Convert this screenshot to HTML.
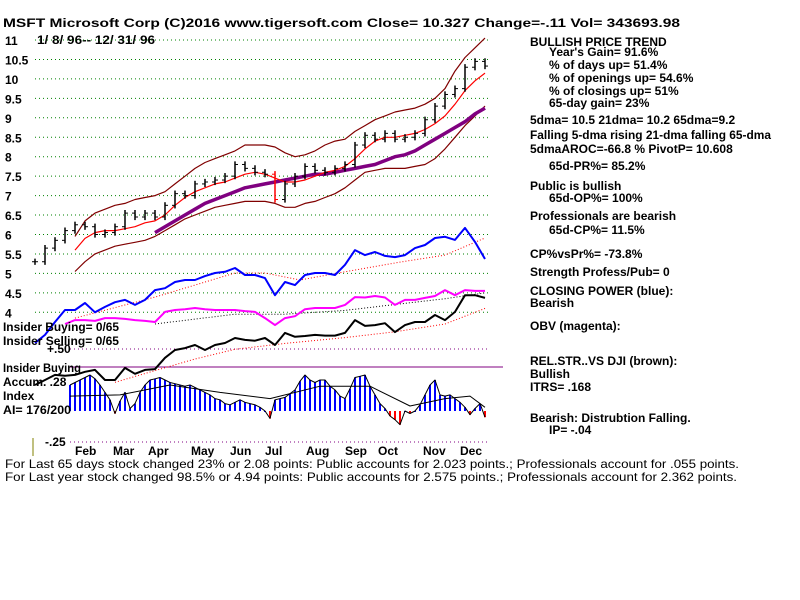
<!DOCTYPE html>
<html><head><meta charset="utf-8"><title>MSFT chart</title>
<style>
html,body{margin:0;padding:0;background:#fff;}
svg{display:block;}
text{font-family:"Liberation Sans",sans-serif;}
.b{font-weight:bold;font-size:12px;}
.n{font-size:12px;}
</style></head>
<body>
<svg id="chart" width="800" height="600" viewBox="0 0 800 600" xmlns="http://www.w3.org/2000/svg">
<rect width="800" height="600" fill="#fff"/>
<text class="b" x="3" y="27" font-size="13" textLength="677" lengthAdjust="spacingAndGlyphs">MSFT   Microsoft Corp  (C)2016 www.tigersoft.com    Close=  10.327  Change=-.11 Vol= 343693.98</text>
<text class="b" x="37" y="44" textLength="118" lengthAdjust="spacingAndGlyphs">1/ 8/ 96-- 12/ 31/ 96</text>
<g id="grid"></g>
<g id="ylabels"></g>
<g id="marks"></g>
<g>
<text class="b" x="3" y="331" textLength="116" lengthAdjust="spacingAndGlyphs">Insider Buying= 0/65</text>
<text class="b" x="3" y="345" textLength="116" lengthAdjust="spacingAndGlyphs">Insider Selling= 0/65</text>
<text class="b" x="47" y="353">+.50</text>
<text class="b" x="3" y="372" textLength="78" lengthAdjust="spacingAndGlyphs">Insider Buying</text>
<text class="b" x="3" y="386">Accum.  .28</text>
<text class="b" x="3" y="400">Index</text>
<text class="b" x="3" y="414" textLength="68" lengthAdjust="spacingAndGlyphs">AI= 176/200</text>
<text class="b" x="45" y="446">-.25</text>
<line x1="33" y1="438" x2="33" y2="456" stroke="#808000" stroke-width="1"/>
</g>
<g id="months"></g>
<g>
<text class="n" x="5" y="468" textLength="734" lengthAdjust="spacingAndGlyphs">For Last 65 days stock changed  23% or  2.08 points:  Public accounts for  2.023 points.;  Professionals account for  .055 points.</text>
<text class="n" x="5" y="481" textLength="732" lengthAdjust="spacingAndGlyphs">For Last year stock changed  98.5% or  4.94 points:  Public accounts for  2.575 points.;  Professionals account for  2.362 points.</text>
</g>
<g id="info"></g>
</svg>
<script>
// ---- data ----
const priceTicks = [11,10.5,10,9.5,9,8.5,8,7.5,7,6.5,6,5.5,5,4.5,4];
const priceTickLabels = ["11","10.5","10","9.5","9","8.5","8","7.5","7","6.5","6","5.5","5","4.5","4"];
const months = ["Feb","Mar","Apr","May","Jun","Jul","Aug","Sep","Oct","Nov","Dec"];
const monthIdx = [5.2,9,12.5,16.8,20.7,24.2,28.3,32.2,35.5,40,43.7];
const closes = [5.3,5.65,5.85,6.1,6.25,6.2,6.0,6.05,6.2,6.55,6.45,6.55,6.45,6.75,7.05,7.0,7.3,7.35,7.4,7.5,7.8,7.7,7.6,7.55,6.9,7.3,7.5,7.75,7.65,7.6,7.7,7.8,8.3,8.55,8.45,8.6,8.45,8.5,8.6,8.95,9.3,9.6,9.75,10.3,10.45,10.33];
const upperBand = [null,null,null,null,5.95,6.35,6.55,6.65,6.75,6.8,6.9,6.95,7.0,7.1,7.3,7.5,7.7,7.85,7.95,8.05,8.15,8.3,8.3,8.3,8.25,8.1,8.0,8.05,8.15,8.3,8.4,8.45,8.65,8.8,8.95,9.05,9.15,9.2,9.25,9.35,9.5,9.75,10.2,10.55,10.8,11.05];
const lowerBand = [null,null,null,null,5.05,5.3,5.5,5.6,5.7,5.75,5.8,5.85,5.95,6.1,6.25,6.4,6.5,6.6,6.7,6.75,6.8,6.85,6.85,6.85,6.8,6.7,6.7,6.8,6.85,6.95,7.05,7.2,7.4,7.6,7.65,7.7,7.7,7.7,7.75,7.8,7.95,8.2,8.5,8.8,9.05,9.3];
const ma21 = [null,null,null,null,5.6,5.9,6.05,6.1,6.1,6.15,6.2,6.3,6.35,6.5,6.75,6.95,7.1,7.2,7.3,7.35,7.45,7.55,7.6,7.55,7.45,7.35,7.35,7.4,7.5,7.6,7.65,7.75,7.95,8.2,8.4,8.5,8.5,8.55,8.6,8.7,8.85,9.05,9.35,9.7,9.95,10.15];
const ma65 = [null,null,null,null,null,null,null,null,null,null,null,null,6.05,6.2,6.35,6.5,6.65,6.8,6.9,7.0,7.1,7.2,7.25,7.3,7.35,7.4,7.45,7.5,7.55,7.55,7.6,7.65,7.7,7.75,7.8,7.9,8.0,8.05,8.15,8.3,8.45,8.6,8.75,8.9,9.1,9.25];
const closingPower = [3.21,3.42,3.75,4.06,4.06,4.24,4.0,4.14,4.26,4.32,4.19,4.32,4.57,4.62,4.78,4.83,4.83,4.93,5.01,5.04,5.14,4.96,4.96,4.88,4.44,4.78,4.7,4.96,5.01,5.01,4.96,5.22,5.6,5.47,5.55,5.45,5.42,5.47,5.65,5.73,5.91,5.94,5.86,6.17,5.81,5.37];
const cpMaIdx = [4,12,20,23,26.5,31,36.5,41,45];
const cpMa = [3.85,4.39,5.01,5.01,4.83,5.04,5.29,5.47,5.91];
const obv = [null,null,null,3.7,3.8,3.8,3.78,3.85,3.85,3.83,3.8,3.78,3.75,4.01,4.06,4.08,4.11,4.08,4.06,4.06,4.06,4.03,4.01,3.85,3.67,3.85,3.9,4.08,4.11,4.11,4.11,4.19,4.39,4.38,4.42,4.38,4.19,4.32,4.32,4.37,4.42,4.57,4.44,4.57,4.55,4.55];
const obvMaIdx = [12,20,25,31,36,41,45];
const obvMa = [3.7,3.95,3.95,4.05,4.2,4.35,4.5];
const relStr = [2.13,2.26,2.39,2.37,2.39,2.47,2.52,2.26,2.26,2.57,2.42,2.52,2.54,2.83,3.03,3.08,3.16,3.03,3.16,3.21,3.34,3.29,3.27,3.34,3.16,3.47,3.37,3.39,3.42,3.4,3.4,3.47,3.8,3.65,3.67,3.72,3.49,3.67,3.75,3.75,3.93,3.8,4.01,4.44,4.44,4.37];
const rsMaIdx = [8,12,16,20,25,31,36,41,45];
const rsMa = [2.2,2.5,2.8,3.05,3.2,3.35,3.5,3.7,4.1];
const aiVals = [.21,.23,.25,.27,.29,.26,.21,.15,.09,-.02,.08,.15,.02,.06,.15,.21,.25,.26,.27,.25,.23,.22,.21,.20,.21,.19,.17,.15,.13,.10,.09,.06,.05,.07,.09,.07,.06,.05,.03,.0,-.06,.09,.10,.11,.14,.17,.24,.29,.25,.23,.25,.25,.20,.17,.12,.10,.18,.27,.28,.29,.20,.13,.06,.02,-.04,-.07,-.11,.0,-.02,.0,.05,.13,.21,.25,.13,.12,.13,.10,.07,.03,-.03,.02,.06,-.05];
const aiMaIdx = [0,10,20,30,40,50,60,68,75,80,83];
const aiMa = [.12,.13,.21,.15,.10,.20,.20,.04,.10,.12,.03];

// ---- scales ----
const NS="http://www.w3.org/2000/svg";
const xOf = i => 35 + 10*i;
const yOf = v => 40 + (11 - v) * 38.9;
const aiX = k => 70 + 5*k;
const aiY = v => 411 - v*124;

function el(tag, attrs, parent){
  const e=document.createElementNS(NS,tag);
  for(const k in attrs) e.setAttribute(k,attrs[k]);
  parent.appendChild(e); return e;
}
const grid=document.getElementById('grid');
const ylab=document.getElementById('ylabels');
const marks=document.getElementById('marks');

priceTicks.forEach((t,i)=>{
  const l=el('line',{x1:35,x2:490,y1:yOf(t),y2:yOf(t),stroke:'#008000','stroke-dasharray':'1,3'},grid);
  
  
  const tx=el('text',{x:5,y:yOf(t)+5,'class':'b','font-size':'13'},ylab);
  tx.textContent=priceTickLabels[i];
  
  
});
let l1=el('line',{x1:70,x2:490,y1:aiY(0.5),y2:aiY(0.5),stroke:'#800080','stroke-dasharray':'1,3'},grid);


let l2=el('line',{x1:70,x2:490,y1:aiY(-0.25),y2:aiY(-0.25),stroke:'#800080','stroke-dasharray':'1,3'},grid);


let l3=el('line',{x1:70,x2:503,y1:367,y2:367,stroke:'#800080','stroke-width':1},grid);



function poly(vals, idx, color, width, dash, name, xf, yf){
  xf=xf||xOf; yf=yf||yOf;
  let pts=[];
  vals.forEach((v,i)=>{ if(v!==null) pts.push(xf(idx?idx[i]:i).toFixed(1)+','+yf(v).toFixed(1)); });
  const a={points:pts.join(' '),fill:'none',stroke:color,'stroke-width':width,'stroke-linejoin':'round'};
  if(dash) a['stroke-dasharray']=dash;
  const p=el('polyline',a,marks);
  
  
}
aiVals.forEach((v,k)=>{
  const y0=aiY(0), y1=aiY(v);
  const r=el('rect',{x:aiX(k)-1,y:Math.min(y0,y1),width:2,height:Math.max(1,Math.abs(y1-y0)),fill:v<0?'#ff0000':'#0000ff'},marks);
  
  
});
poly(aiVals,null,'#000',1,null,'ai-outline',aiX,aiY);
poly(aiMa,aiMaIdx,'#000',1,null,'ai-moving-average',aiX,aiY);

poly(upperBand,null,'#800000',1.2,null,'upper-band');
poly(lowerBand,null,'#800000',1.2,null,'lower-band');
poly(ma65,null,'#800080',3.5,null,'ma-65-day');
poly(ma21,null,'#ff0000',1.2,null,'ma-21-day');
poly(cpMa,cpMaIdx,'#ff0000',1,'1,2','closing-power-ma');
poly(obvMa,obvMaIdx,'#000',1,'1,2','obv-ma');
poly(rsMa,rsMaIdx,'#ff0000',1,'1,2','rel-strength-ma');
poly(closingPower,null,'#0000ff',2,null,'closing-power-line');
poly(obv,null,'#ff00ff',2,null,'obv-line');
poly(relStr,null,'#000',2,null,'rel-strength-line');

closes.forEach((c,i)=>{
  const prev=i>0?closes[i-1]:c;
  const hi=Math.max(c,prev)+0.08, lo=Math.min(c,prev)-0.08;
  const col=(c<prev-0.3)?'#ff0000':'#000';
  const b=el('line',{x1:xOf(i),x2:xOf(i),y1:yOf(hi),y2:yOf(lo),stroke:col,'stroke-width':1.5},marks);
  
  
  const t=el('line',{x1:xOf(i),x2:xOf(i)+3,y1:yOf(c),y2:yOf(c),stroke:col,'stroke-width':1},marks);
  
  
  const o=el('line',{x1:xOf(i)-3,x2:xOf(i),y1:yOf(prev),y2:yOf(prev),stroke:col,'stroke-width':1},marks);
  
  
});

const mg=document.getElementById('months');
months.forEach((m,i)=>{
  const t=el('text',{x:xOf(monthIdx[i])-12,y:455,'class':'b','font-size':'13'},mg);
  t.textContent=m;
  
  
});

const info=[
 [530,46,"BULLISH PRICE TREND",0],[549,56,"Year's Gain= 91.6%",0],[549,69,"% of days up= 51.4%",0],
 [549,82,"% of openings up= 54.6%",0],[549,95,"% of closings up= 51%",0],[549,107,"65-day gain= 23%",0],
 [530,124,"5dma= 10.5 21dma= 10.2 65dma=9.2",0],[530,139,"Falling 5-dma  rising 21-dma  falling 65-dma",241],
 [530,153,"5dmaAROC=-66.8 %  PivotP= 10.608",0],[549,170,"65d-PR%= 85.2%",0],
 [530,190,"Public is bullish",0],[549,202,"65d-OP%= 100%",0],[530,220,"Professionals are bearish",0],
 [549,234,"65d-CP%= 11.5%",0],[530,258,"CP%vsPr%= -73.8%",0],[530,276,"Strength Profess/Pub= 0",0],
 [530,295,"CLOSING POWER (blue):",0],[530,307,"Bearish",0],[530,330,"OBV (magenta):",0],
 [530,365,"REL.STR..VS DJI (brown):",0],[530,378,"Bullish",0],[530,391,"ITRS= .168",0],
 [530,422,"Bearish: Distrubtion Falling.",0],[549,434,"IP= -.04",0]
];
const ig=document.getElementById('info');
info.forEach(r=>{
  const a={x:r[0],y:r[1],'class':'b'};
  if(r[3]) {a.textLength=r[3];a.lengthAdjust='spacingAndGlyphs';}
  const t=el('text',a,ig);
  t.textContent=r[2];
  
  
});
</script>
</body></html>
